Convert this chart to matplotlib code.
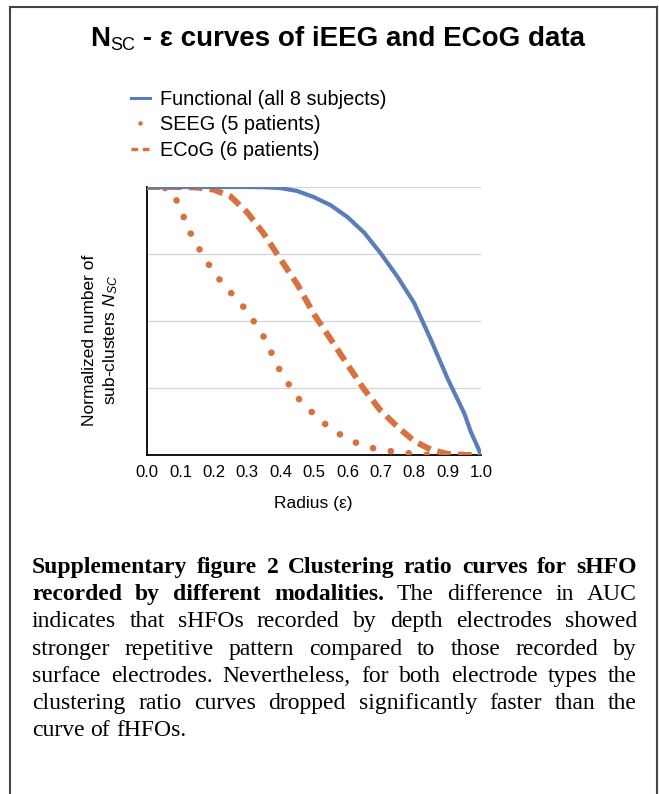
import numpy as np
import matplotlib
matplotlib.use('Agg')
import matplotlib.pyplot as plt
from matplotlib.lines import Line2D

plt.rcParams['font.family'] = ['Liberation Sans', 'DejaVu Sans']
plt.rcParams['mathtext.fontset'] = 'custom'
plt.rcParams['mathtext.rm'] = 'Liberation Sans'
plt.rcParams['mathtext.it'] = 'Liberation Sans:italic'

# data
func_x = [0.0, 0.1, 0.2, 0.3, 0.35, 0.4, 0.45, 0.5, 0.55, 0.6, 0.65, 0.7, 0.75, 0.8, 0.85, 0.9, 0.95, 0.97, 0.99, 1.0]
func_y = [1.0, 1.0, 1.0, 1.0, 0.999, 0.996, 0.985, 0.962, 0.932, 0.888, 0.83, 0.752, 0.665, 0.567, 0.43, 0.285, 0.155, 0.085, 0.03, 0.0]

seeg_x = [0.0, 0.05, 0.075, 0.1, 0.125, 0.15, 0.2, 0.25, 0.3, 0.35, 0.4, 0.45, 0.5, 0.55, 0.6, 0.65, 0.7, 0.75, 0.8, 0.85, 0.9, 0.95, 1.0]
seeg_y = [1.0, 0.998, 0.985, 0.92, 0.84, 0.782, 0.68, 0.607, 0.537, 0.44, 0.31, 0.215, 0.152, 0.098, 0.06, 0.033, 0.019, 0.011, 0.004, 0.0, 0.0, 0.0, 0.0]

ecog_x = [0.0, 0.1, 0.15, 0.2, 0.25, 0.3, 0.35, 0.4, 0.45, 0.5, 0.55, 0.6, 0.65, 0.7, 0.75, 0.8, 0.85, 0.9, 0.95, 1.0]
ecog_y = [1.0, 1.0, 0.998, 0.99, 0.965, 0.905, 0.825, 0.73, 0.637, 0.525, 0.432, 0.338, 0.245, 0.165, 0.105, 0.052, 0.02, 0.004, 0.0, 0.0]

labels = ['Functional (all 8 subjects)', 'SEEG (5 patients)', 'ECoG (6 patients)']
xticks = np.round(np.arange(0, 1.01, 0.1), 1)

caption = [
    [('Supplementary figure 2 Clustering ratio curves for sHFO', 'bold')],
    [('recorded by different modalities.', 'bold'), ('The difference in AUC', 'normal')],
    [('indicates that sHFOs recorded by depth electrodes showed', 'normal')],
    [('stronger repetitive pattern compared to those recorded by', 'normal')],
    [('surface electrodes. Nevertheless, for both electrode types the', 'normal')],
    [('clustering ratio curves dropped significantly faster than the', 'normal')],
    [('curve of fHFOs.', 'normal')],
]

blue = '#5B7DBA'
orange = '#D9703F'

W, H = 659, 794
fig = plt.figure(figsize=(W/100, H/100), dpi=100)
renderer = fig.canvas.get_renderer()

def fx(px):
    return px / W

def fy(py):
    return 1 - py / H

# frame around the whole panel
for xs, ys in [([10, 10], [7, 800]), ([10, 657], [7, 7]), ([657, 657], [7, 800])]:
    fig.add_artist(Line2D([fx(x) for x in xs], [fy(y) for y in ys], color='#444444', lw=1.5))

# plot
ax = fig.add_axes([fx(147), fy(455), 334/W, 268/H])
ax.plot(seeg_x, seeg_y, color=orange, lw=4.8, linestyle=(0, (0.01, 2.7)),
        dash_capstyle='round', zorder=3)
ax.plot(ecog_x, ecog_y, color=orange, lw=4.3, linestyle=(0, (2.3, 1.2)),
        dash_capstyle='butt', zorder=3)
ax.plot(func_x, func_y, color=blue, lw=3.0, zorder=4)

ax.set_xlim(0, 1)
ax.set_ylim(0, 1)
ax.set_xticks(xticks)
ax.set_xticklabels(['%.1f' % v for v in xticks], fontsize=12)
ax.set_yticks([0.25, 0.5, 0.75, 1.0])
ax.set_yticklabels([])
ax.tick_params(length=0)
ax.tick_params(axis='x', pad=7.5)
ax.yaxis.grid(True, color='#d4d4d4', lw=0.9)
for s in ['top', 'right']:
    ax.spines[s].set_visible(False)
for s in ['left', 'bottom']:
    ax.spines[s].set_linewidth(1.3)
    ax.spines[s].set_color('black')

fig.text(fx(313.5), fy(508), 'Radius (\u03b5)', fontsize=12.5, ha='center', va='baseline')
fig.text(fx(101), fy(340), 'Normalized number of\nsub-clusters $N_{SC}$', fontsize=12.5,
         rotation=90, ha='center', va='center', multialignment='center', linespacing=1.35)

# legend
handles = [Line2D([], [], color=blue, lw=2.2),
           Line2D([], [], color=orange, linestyle='none', marker='o', markersize=2.2),
           Line2D([], [], color=orange, lw=2.4, linestyle=(0, (2.0, 1.4)))]
fig.legend(handles, labels, loc='upper left', bbox_to_anchor=(fx(131), fy(90)),
           frameon=False, fontsize=14.3, handlelength=0.95, handletextpad=0.5,
           labelspacing=0.32, borderpad=0, borderaxespad=0)

# title, N with small SC subscript
parts = [('N', 20, 'bold', 0), ('SC', 13, 'normal', -4), (' - \u03b5 curves of iEEG and ECoG data', 20, 'bold', 0)]
tt = [fig.text(0, 0, s, fontsize=sz, fontweight=wt, va='baseline') for s, sz, wt, dy in parts]
ww = [t.get_window_extent(renderer).width for t in tt]
x = 337.5 - sum(ww) / 2
for t, w, p in zip(tt, ww, parts):
    t.set_position((fx(x), fy(46 - p[3])))
    x += w

# caption, justified by hand
x0, x1 = 32, 637
for i, line in enumerate(caption):
    words = []
    for chunk, wt in line:
        words += [(w, wt) for w in chunk.split()]
    texts = [fig.text(0, 0, w, fontsize=17, family='Liberation Serif', fontweight=wt, va='baseline')
             for w, wt in words]
    widths = [t.get_window_extent(renderer).width for t in texts]
    if i < len(caption) - 1:
        gap = (x1 - x0 - sum(widths)) / (len(words) - 1)
    else:
        gap = 5.9
    x = x0
    y = 573 + i * 27.2
    for t, w in zip(texts, widths):
        t.set_position((fx(x), fy(y)))
        x += w + gap

fig.savefig('out.png', dpi=100)
